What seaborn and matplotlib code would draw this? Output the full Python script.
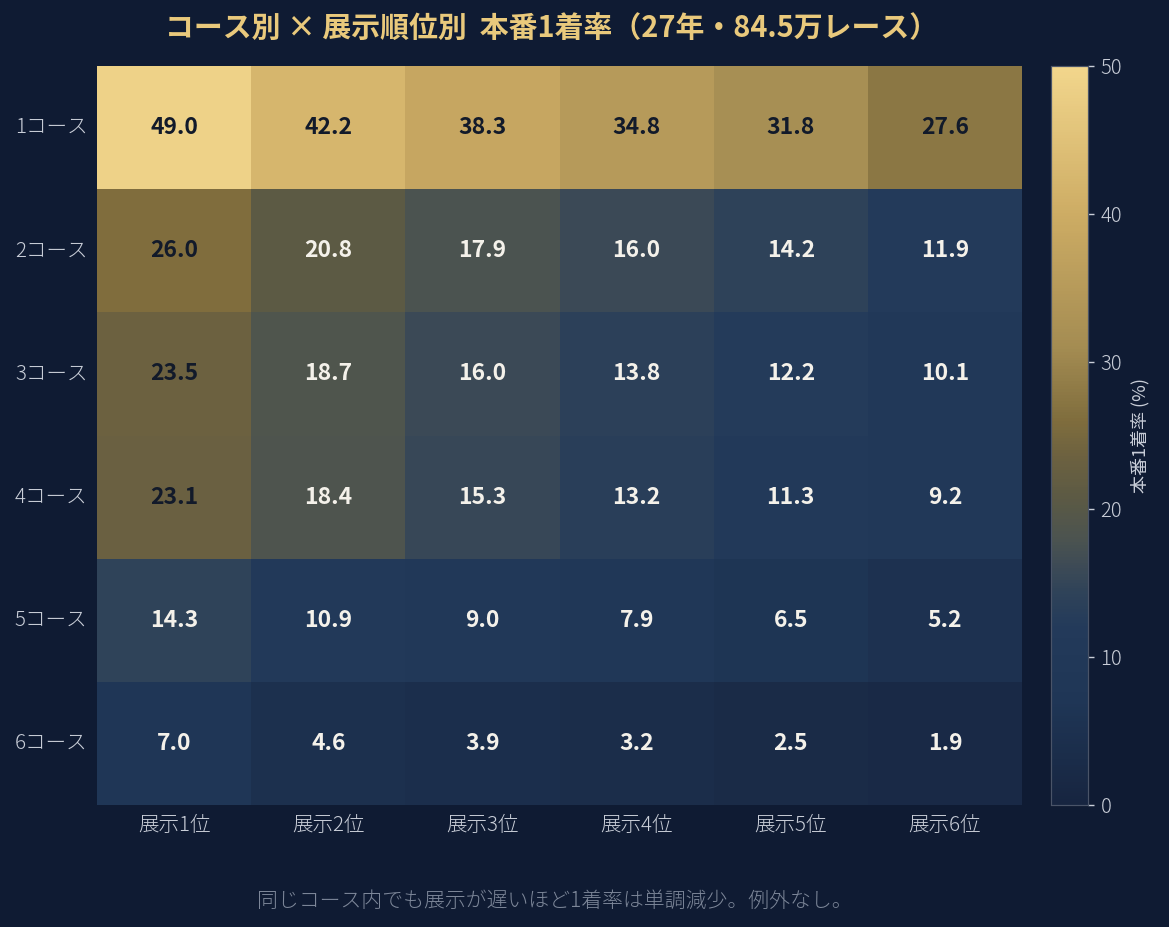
import numpy as np
import pandas as pd
import matplotlib
matplotlib.use("Agg")
import matplotlib.pyplot as plt
from matplotlib.colors import LinearSegmentedColormap
import seaborn as sns

courses = ["1コース", "2コース", "3コース", "4コース", "5コース", "6コース"]
ranks = ["展示1位", "展示2位", "展示3位", "展示4位", "展示5位", "展示6位"]
row1 = [49.0, 42.2, 38.3, 34.8, 31.8, 27.6]
row2 = [26.0, 20.8, 17.9, 16.0, 14.2, 11.9]
row3 = [23.5, 18.7, 16.0, 13.8, 12.2, 10.1]
row4 = [23.1, 18.4, 15.3, 13.2, 11.3, 9.2]
row5 = [14.3, 10.9, 9.0, 7.9, 6.5, 5.2]
row6 = [7.0, 4.6, 3.9, 3.2, 2.5, 1.9]
cbar_ticks = [0, 10, 20, 30, 40, 50]

title = "コース別 × 展示順位別  本番1着率（27年・84.5万レース）"
caption = "同じコース内でも展示が遅いほど1着率は単調減少。例外なし。"
cbar_label = "本番1着率 (%)"

BG = "#0f1b33"
df = pd.DataFrame([row1, row2, row3, row4, row5, row6], index=courses, columns=ranks)

sns.set_theme(style="white")
plt.rcParams["font.family"] = ["Noto Sans CJK JP", "DejaVu Sans"]

cmap = LinearSegmentedColormap.from_list(
    "navygold",
    [(0.0, "#172540"), (0.14, "#1f3656"), (0.238, "#233a5a"), (0.284, "#2e4259"),
     (0.32, "#3c4a56"), (0.358, "#4b5350"), (0.416, "#5c5a44"), (0.47, "#6c6140"),
     (0.52, "#7f6d3d"), (0.62, "#a48c52"), (0.8, "#cdac64"), (1.0, "#f2d68c")])

fig = plt.figure(figsize=(11.69, 9.27), dpi=100, facecolor=BG)
ax = fig.add_axes([97/1169, 1-805/927, 925/1169, 739/927])
cax = fig.add_axes([1051/1169, 1-805/927, 37/1169, 739/927])
ax.set_facecolor(BG)

sns.heatmap(df, ax=ax, cbar_ax=cax, cmap=cmap, vmin=0, vmax=50,
            annot=False, linewidths=0,
            cbar_kws={"ticks": cbar_ticks})

vals = df.values
for i in range(vals.shape[0]):
    for j in range(vals.shape[1]):
        v = vals[i, j]
        col = "#121a2a" if v >= 22 else "#f4f1ea"
        ax.text(j + 0.5, i + 0.5, f"{v:.1f}", ha="center", va="center",
                fontsize=16.5, fontweight="bold", color=col,
                family=["Noto Sans CJK JP", "DejaVu Sans"])

ax.set_xlabel("")
ax.set_ylabel("")
ax.tick_params(axis="both", length=0, colors="#c9ced8", labelsize=14.8, pad=7)
ax.set_yticklabels(courses, rotation=0, fontweight="light")
ax.set_xticklabels(ranks, rotation=0, fontweight="light")
for s in ax.spines.values():
    s.set_visible(False)

cax.tick_params(colors="#c9ced8", length=4, width=1, pad=5)
cax.set_yticks(cbar_ticks)
cax.set_yticklabels([str(t) for t in cbar_ticks], fontsize=14.5, fontweight="light",
                    color="#c9ced8")
cax.set_ylabel(cbar_label, color="#c9ced8", fontsize=13, labelpad=6)
cax.yaxis.set_label_position("right")
for s in cax.spines.values():
    s.set_visible(True)
    s.set_edgecolor("#4a5468")
    s.set_linewidth(0.8)

fig.text(0.472, 1-28/927, title, ha="center", va="center", fontsize=20.8,
         fontweight="bold", color="#e9c97c")
fig.text(0.475, 1-901/927, caption, ha="center", va="center", fontsize=15,
         fontweight="light", color="#7d8799")

fig.savefig("out.png", dpi=100, facecolor=BG)
